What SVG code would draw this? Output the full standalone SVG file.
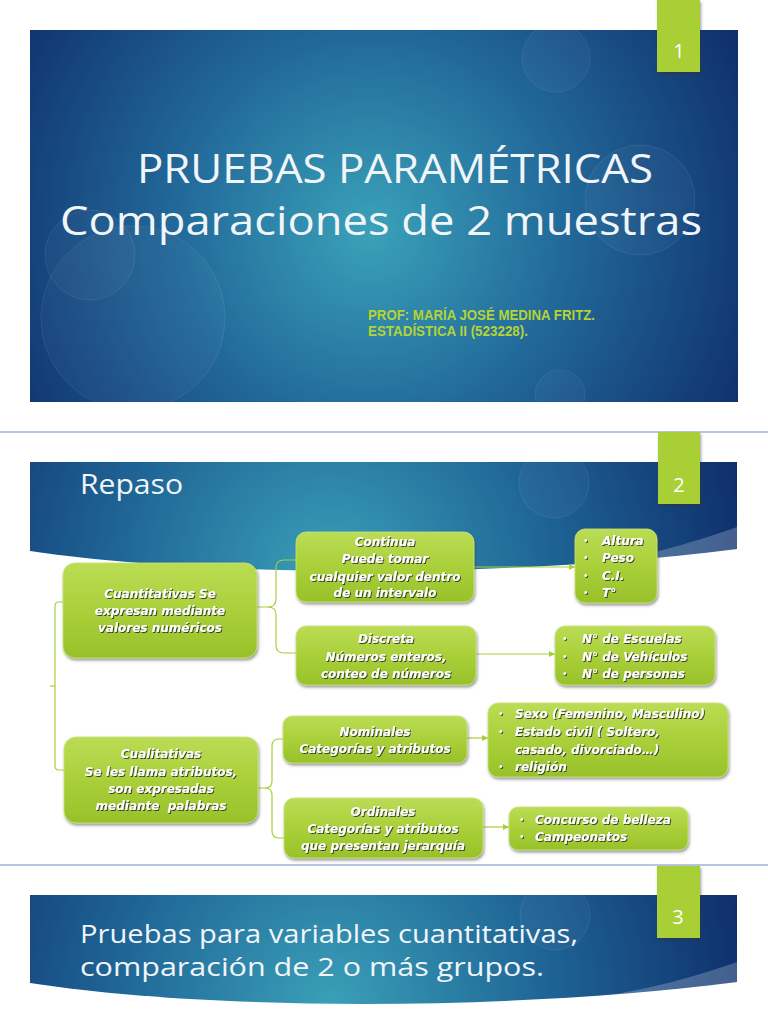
<svg xmlns="http://www.w3.org/2000/svg" width="768" height="1024" viewBox="0 0 768 1024">
<defs>
<style>
.title{font-family:"Open Sans","Liberation Sans",sans-serif;fill:#f2f5f8}
.num{font-family:"Open Sans","Liberation Sans",sans-serif;font-size:20px;fill:#ffffff;text-anchor:middle}
.auth{font-family:"Liberation Sans",Arial,sans-serif;font-weight:bold;font-size:14px;fill:#b5d334}
.bt{font-family:"DejaVu Sans","Liberation Sans",sans-serif;font-weight:bold;font-style:italic;font-size:12px;fill:#ffffff;filter:url(#tsh)}
.c{text-anchor:middle}
.bul{font-family:"Liberation Sans",Arial,sans-serif;font-size:10px;fill:#ffffff;filter:url(#tsh)}
.box{fill:url(#gbox);stroke:#c9e57a;stroke-width:0.8;filter:url(#bsh)}
.tab{fill:#a8cf36;filter:url(#tabsh)}
.sep{stroke:#6f8fc0;stroke-width:1.2}
.con{fill:none;stroke:#a7cf3b;stroke-width:1.2}
.circ{fill:#ffffff;fill-opacity:0.03;stroke:#ffffff;stroke-opacity:0.08;stroke-width:1}
</style>
<radialGradient id="g1" gradientUnits="userSpaceOnUse" cx="370" cy="230" r="430">
<stop offset="0" stop-color="#3aa2b9"/>
<stop offset="0.45" stop-color="#22699a"/>
<stop offset="1" stop-color="#0e2b6a"/>
</radialGradient>
<radialGradient id="g2" gradientUnits="userSpaceOnUse" cx="330" cy="575" r="430">
<stop offset="0" stop-color="#3aa0b8"/>
<stop offset="0.5" stop-color="#1f6596"/>
<stop offset="1" stop-color="#0e2c6a"/>
</radialGradient>
<radialGradient id="g3" gradientUnits="userSpaceOnUse" cx="330" cy="1005" r="430">
<stop offset="0" stop-color="#3aa0b8"/>
<stop offset="0.5" stop-color="#1f6596"/>
<stop offset="1" stop-color="#0e2c6a"/>
</radialGradient>
<linearGradient id="gbox" x1="0" y1="0" x2="0" y2="1">
<stop offset="0" stop-color="#bbdc55"/>
<stop offset="0.5" stop-color="#a9d03a"/>
<stop offset="1" stop-color="#98c12a"/>
</linearGradient>
<filter id="bsh" x="-10%" y="-20%" width="125%" height="150%">
<feDropShadow dx="1" dy="2" stdDeviation="1.5" flood-color="#404040" flood-opacity="0.55"/>
</filter>
<filter id="tsh" x="-10%" y="-30%" width="125%" height="170%">
<feDropShadow dx="1" dy="1" stdDeviation="0.6" flood-color="#2a2a2a" flood-opacity="0.85"/>
</filter>
<filter id="tabsh" x="-20%" y="-10%" width="150%" height="130%">
<feDropShadow dx="1" dy="2" stdDeviation="1.5" flood-color="#303030" flood-opacity="0.5"/>
</filter>
<marker id="arr" viewBox="0 0 6 6" refX="6" refY="3" markerWidth="5" markerHeight="5" orient="auto">
<path d="M0,0 L6,3 L0,6 Z" fill="#a7cf3b"/>
</marker>
</defs>

<rect x="0" y="0" width="768" height="1024" fill="#ffffff"/>

<!-- Slide 1 -->
<g id="slide1">
<rect x="30" y="30" width="708" height="372" fill="url(#g1)"/>
<circle class="circ" cx="133" cy="318" r="92"/>
<circle class="circ" cx="90" cy="255" r="45"/>
<circle class="circ" cx="556" cy="58" r="34"/>
<circle class="circ" cx="640" cy="200" r="55"/>
<circle class="circ" cx="560" cy="395" r="25"/>
<rect class="tab" x="657" y="0" width="43" height="72"/>
<text class="num" x="679" y="58">1</text>
<text class="title" x="137" y="183" font-size="40" textLength="516" lengthAdjust="spacingAndGlyphs">PRUEBAS PARAMÉTRICAS</text>
<text class="title" x="60" y="235" font-size="41" textLength="642" lengthAdjust="spacingAndGlyphs">Comparaciones de 2 muestras</text>
<text class="auth" x="368" y="320" textLength="227" lengthAdjust="spacingAndGlyphs">PROF: MARÍA JOSÉ MEDINA FRITZ.</text>
<text class="auth" x="368" y="336" textLength="160" lengthAdjust="spacingAndGlyphs">ESTADÍSTICA II (523228).</text>
</g>

<line class="sep" x1="0" y1="432" x2="768" y2="432"/>

<!-- Slide 2 -->
<g id="slide2">
<path d="M30,462 H737 V549 C520,577 220,579 30,551 Z" fill="url(#g2)"/>
<path d="M590,565 C650,556 700,540 737,527 V549 C690,556 640,562 590,565 Z" fill="#ffffff" fill-opacity="0.22"/>
<circle class="circ" cx="554" cy="483" r="35"/>
<rect class="tab" x="658" y="432" width="42" height="72"/>
<text class="num" x="679" y="492">2</text>
<text class="title" x="80" y="494" font-size="28" textLength="103" lengthAdjust="spacingAndGlyphs">Repaso</text>
</g>

<g id="connectors">
<path class="con" d="M63,602 H59 Q55,602 55,606 V766 Q55,770 59,770 H64"/>
<path class="con" d="M55,686 H50"/>
<path class="con" d="M257,607 H268 Q276,607 276,599 V568 Q276,560 284,560 H296"/>
<path class="con" d="M268,607 Q276,607 276,615 V645 Q276,653 284,653 H296"/>
<path class="con" d="M258,788 H265 Q272,788 272,781 V746 Q272,739 279,739 H283"/>
<path class="con" d="M265,788 Q272,788 272,795 V831 Q272,838 279,838 H284"/>
<line class="con" x1="474" y1="567" x2="575" y2="567" marker-end="url(#arr)"/>
<line class="con" x1="476" y1="654" x2="555" y2="654" marker-end="url(#arr)"/>
<line class="con" x1="467" y1="738" x2="488" y2="738" marker-end="url(#arr)"/>
<line class="con" x1="483" y1="827" x2="509" y2="827" marker-end="url(#arr)"/>
</g>

<g id="cuantitativas">
<rect class="box" x="63" y="563" width="194" height="95" rx="12"/>
<text class="bt c" x="160" y="598">Cuantitativas Se</text>
<text class="bt c" x="160" y="615">expresan mediante</text>
<text class="bt c" x="160" y="632">valores numéricos</text>
</g>

<g id="cualitativas">
<rect class="box" x="64" y="737" width="194" height="86" rx="12"/>
<text class="bt c" x="161" y="758">Cualitativas</text>
<text class="bt c" x="161" y="776">Se les llama atributos,</text>
<text class="bt c" x="161" y="793">son expresadas</text>
<text class="bt c" x="161" y="810" xml:space="preserve">mediante  palabras</text>
</g>

<g id="continua">
<rect class="box" x="296" y="532" width="178" height="70" rx="10"/>
<text class="bt c" x="385" y="546">Continua</text>
<text class="bt c" x="385" y="563">Puede tomar</text>
<text class="bt c" x="385" y="581">cualquier valor dentro</text>
<text class="bt c" x="385" y="597">de un intervalo</text>
</g>

<g id="altura">
<rect class="box" x="575" y="529" width="82" height="74" rx="10"/>
<text class="bul" x="584" y="544">•</text><text class="bt" x="602" y="545">Altura</text>
<text class="bul" x="584" y="561">•</text><text class="bt" x="602" y="562">Peso</text>
<text class="bul" x="584" y="579">•</text><text class="bt" x="602" y="580">C.I.</text>
<text class="bul" x="584" y="596">•</text><text class="bt" x="602" y="597">T°</text>
</g>

<g id="discreta">
<rect class="box" x="296" y="626" width="180" height="59" rx="10"/>
<text class="bt c" x="386" y="643">Discreta</text>
<text class="bt c" x="386" y="661">Números enteros,</text>
<text class="bt c" x="386" y="678">conteo de números</text>
</g>

<g id="numeros">
<rect class="box" x="555" y="626" width="160" height="59" rx="10"/>
<text class="bul" x="563" y="642">•</text><text class="bt" x="582" y="643">N° de Escuelas</text>
<text class="bul" x="563" y="660">•</text><text class="bt" x="582" y="661">N° de Vehículos</text>
<text class="bul" x="563" y="677">•</text><text class="bt" x="582" y="678">N° de personas</text>
</g>

<g id="nominales">
<rect class="box" x="283" y="716" width="184" height="47" rx="9"/>
<text class="bt c" x="375" y="736">Nominales</text>
<text class="bt c" x="375" y="753">Categorías y atributos</text>
</g>

<g id="sexo">
<rect class="box" x="488" y="703" width="240" height="74" rx="10"/>
<text class="bul" x="499" y="717">•</text><text class="bt" x="515" y="718">Sexo (Femenino, Masculino)</text>
<text class="bul" x="499" y="735">•</text><text class="bt" x="515" y="736">Estado civil ( Soltero,</text>
<text class="bt" x="515" y="754">casado, divorciado…)</text>
<text class="bul" x="499" y="770">•</text><text class="bt" x="515" y="771">religión</text>
</g>

<g id="ordinales">
<rect class="box" x="284" y="798" width="199" height="60" rx="10"/>
<text class="bt c" x="383" y="816">Ordinales</text>
<text class="bt c" x="383" y="833">Categorías y atributos</text>
<text class="bt c" x="383" y="850">que presentan jerarquía</text>
</g>

<g id="concurso">
<rect class="box" x="509" y="807" width="179" height="43" rx="9"/>
<text class="bul" x="520" y="823">•</text><text class="bt" x="535" y="824">Concurso de belleza</text>
<text class="bul" x="520" y="840">•</text><text class="bt" x="535" y="841">Campeonatos</text>
</g>

<line class="sep" x1="0" y1="865" x2="768" y2="865"/>

<!-- Slide 3 -->
<g id="slide3">
<path d="M30,895 H737 V982 C520,1010 220,1012 30,983 Z" fill="url(#g3)"/>
<path d="M590,998 C650,990 700,975 737,962 V982 C690,989 640,995 590,998 Z" fill="#ffffff" fill-opacity="0.22"/>
<circle class="circ" cx="555" cy="915" r="35"/>
<rect class="tab" x="657" y="866" width="43" height="72"/>
<text class="num" x="678" y="924">3</text>
<text class="title" x="80" y="943" font-size="26" textLength="498" lengthAdjust="spacingAndGlyphs">Pruebas para variables cuantitativas,</text>
<text class="title" x="80" y="976" font-size="26" textLength="464" lengthAdjust="spacingAndGlyphs">comparación de 2 o más grupos.</text>
</g>
</svg>
